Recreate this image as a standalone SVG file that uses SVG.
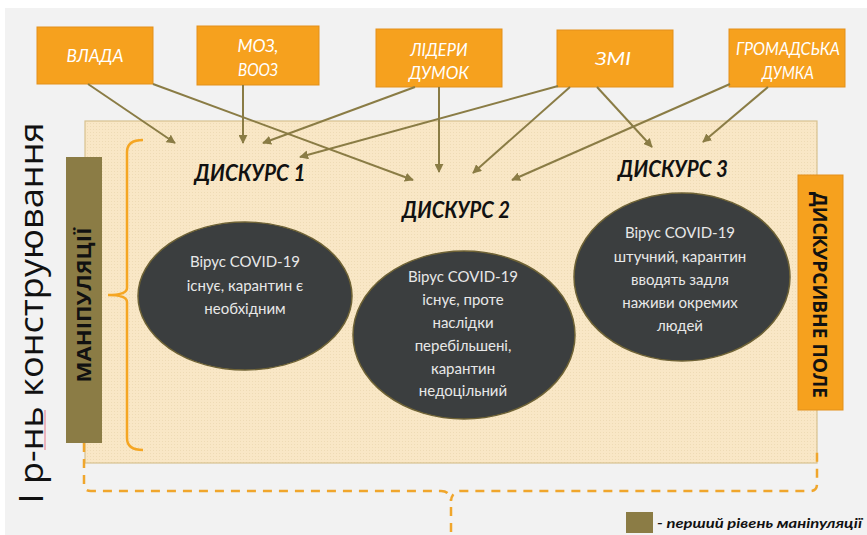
<svg xmlns="http://www.w3.org/2000/svg" width="867" height="535" viewBox="0 0 867 535">
<style>
.box{fill:#f6a11e;stroke:#e3901a;stroke-width:1}
.btxt{font-family:Lato,"Open Sans",sans-serif;font-style:italic;font-size:18px;fill:#ffffff;text-anchor:middle}
.arr{stroke:#8a7c45;stroke-width:2;fill:none;marker-end:url(#ah)}
.ell{fill:#3b3e3f;stroke:#6e6235;stroke-width:1.5}
.etxt{font-family:Lato,"Open Sans",sans-serif;font-size:15px;fill:#e8e8e8;text-anchor:middle}
.disc{font-family:Lato,"Open Sans",sans-serif;font-style:italic;font-weight:bold;font-size:22px;fill:#111111}
.dash{stroke:#f0a62c;stroke-width:2.5;fill:none;stroke-dasharray:9 7}
</style>
<defs>
<marker id="ah" viewBox="0 0 10 10" refX="9" refY="5" markerWidth="9" markerHeight="9" markerUnits="userSpaceOnUse" orient="auto">
<path d="M0,0 L10,5 L0,10 Z" fill="#8a7c45"/>
</marker>
<pattern id="dots" width="3" height="3" patternUnits="userSpaceOnUse">
<rect width="3" height="3" fill="#f9e7c6"/>
<rect width="1" height="1" fill="#eedbb5"/>
</pattern>
</defs>
<rect width="867" height="535" fill="#ffffff"/>
<rect x="5" y="8" width="862" height="527" fill="#f2f2f2"/>

<g id="field">
<rect x="85" y="121" width="732" height="342" fill="url(#dots)" stroke="#d8c28f" stroke-width="1.2"/>
</g>

<g id="level-label">
<text transform="translate(43,313) rotate(-90)" text-anchor="middle" font-family="'Open Sans',Lato,sans-serif" font-size="32" fill="#111111" textLength="381" lengthAdjust="spacingAndGlyphs">І р-нь конструювання</text>
<line x1="45" y1="410" x2="45" y2="450" stroke="#e88a9a" stroke-width="1.2"/>
</g>

<g id="manipulations">
<rect x="66" y="157" width="36" height="286" fill="#8b7c45"/>
<text transform="translate(91,305) rotate(-90)" text-anchor="middle" font-family="'Open Sans',Lato,sans-serif" font-weight="bold" font-size="20" fill="#111111" textLength="155" lengthAdjust="spacingAndGlyphs">МАНІПУЛЯЦІЇ</text>
</g>

<g id="brace">
<path d="M143,140 Q127,140 127,152 L127,288 Q127,295 108,295 Q127,295 127,302 L127,438 Q127,450 143,450" fill="none" stroke="#f5a623" stroke-width="2.5"/>
</g>

<g id="discursive-field">
<rect x="798" y="175" width="45" height="235" fill="#f6a11e" stroke="#e3901a" stroke-width="1"/>
<text transform="translate(813,295) rotate(90)" text-anchor="middle" font-family="'Open Sans',Lato,sans-serif" font-weight="bold" font-size="19" fill="#111111" textLength="206" lengthAdjust="spacingAndGlyphs">ДИСКУРСИВНЕ ПОЛЕ</text>
</g>

<g id="vlada"><rect class="box" x="37" y="27" width="116" height="57"/><text class="btxt" x="95" y="62" textLength="57" lengthAdjust="spacingAndGlyphs">ВЛАДА</text></g>
<g id="moz"><rect class="box" x="197" y="26" width="122" height="59"/><text class="btxt" x="258" y="52" textLength="41" lengthAdjust="spacingAndGlyphs">МОЗ,</text><text class="btxt" x="258" y="76" textLength="40" lengthAdjust="spacingAndGlyphs">ВООЗ</text></g>
<g id="lidery"><rect class="box" x="376" y="29" width="126" height="58"/><text class="btxt" x="439" y="56" textLength="57" lengthAdjust="spacingAndGlyphs">ЛІДЕРИ</text><text class="btxt" x="439" y="79" textLength="60" lengthAdjust="spacingAndGlyphs">ДУМОК</text></g>
<g id="zmi"><rect class="box" x="557" y="30" width="116" height="57"/><text class="btxt" x="613" y="65" textLength="36" lengthAdjust="spacingAndGlyphs">ЗМІ</text></g>
<g id="hromadska"><rect class="box" x="729" y="29" width="116" height="58"/><text class="btxt" x="788" y="55" textLength="104" lengthAdjust="spacingAndGlyphs">ГРОМАДСЬКА</text><text class="btxt" x="788" y="79" textLength="52" lengthAdjust="spacingAndGlyphs">ДУМКА</text></g>

<g id="connectors">
<line class="arr" x1="88" y1="84" x2="175" y2="143"/>
<line class="arr" x1="153" y1="84" x2="413" y2="180"/>
<line class="arr" x1="243" y1="85" x2="243" y2="143"/>
<line class="arr" x1="415" y1="87" x2="263" y2="143"/>
<line class="arr" x1="439" y1="87" x2="439" y2="172"/>
<line class="arr" x1="558" y1="86" x2="300" y2="157"/>
<line class="arr" x1="570" y1="87" x2="473" y2="173"/>
<line class="arr" x1="597" y1="87" x2="652" y2="147"/>
<line class="arr" x1="730" y1="84" x2="512" y2="180"/>
<line class="arr" x1="768" y1="87" x2="703" y2="142"/>
</g>

<g id="discourse1">
<text class="disc" x="250" y="181" text-anchor="middle" textLength="111" lengthAdjust="spacingAndGlyphs">ДИСКУРС 1</text>
<ellipse class="ell" cx="245" cy="296" rx="107" ry="74"/>
<text class="etxt" x="245" y="267">Вірус COVID-19</text>
<text class="etxt" x="245" y="291">існує, карантин є</text>
<text class="etxt" x="245" y="314">необхідним</text>
</g>

<g id="discourse2">
<text class="disc" x="456" y="218" text-anchor="middle" textLength="108" lengthAdjust="spacingAndGlyphs">ДИСКУРС 2</text>
<ellipse class="ell" cx="464" cy="335" rx="111" ry="84"/>
<text class="etxt" x="463" y="282">Вірус COVID-19</text>
<text class="etxt" x="463" y="305">існує, проте</text>
<text class="etxt" x="463" y="328">наслідки</text>
<text class="etxt" x="463" y="351">перебільшені,</text>
<text class="etxt" x="463" y="374">карантин</text>
<text class="etxt" x="463" y="396">недоцільний</text>
</g>

<g id="discourse3">
<text class="disc" x="673" y="177" text-anchor="middle" textLength="110" lengthAdjust="spacingAndGlyphs">ДИСКУРС 3</text>
<ellipse class="ell" cx="682" cy="277" rx="108" ry="84"/>
<text class="etxt" x="680" y="238">Вірус COVID-19</text>
<text class="etxt" x="680" y="262">штучний, карантин</text>
<text class="etxt" x="680" y="285">вводять задля</text>
<text class="etxt" x="680" y="308">наживи окремих</text>
<text class="etxt" x="680" y="331">людей</text>
</g>

<g id="level-bracket">
<path class="dash" d="M84,443 V484 Q84,491 91,491 H441 Q450,491 451,501 Q452,491 461,491 H810 Q817,491 817,484 V447"/>
<path class="dash" d="M451,507 V535"/>
</g>

<g id="legend">
<rect x="626" y="512" width="27" height="21" fill="#8b7c45"/>
<text x="657" y="528" font-family="Lato,'Open Sans',sans-serif" font-style="italic" font-weight="bold" font-size="14" fill="#111111" textLength="205" lengthAdjust="spacingAndGlyphs">- перший рівень маніпуляції</text>
</g>
</svg>
